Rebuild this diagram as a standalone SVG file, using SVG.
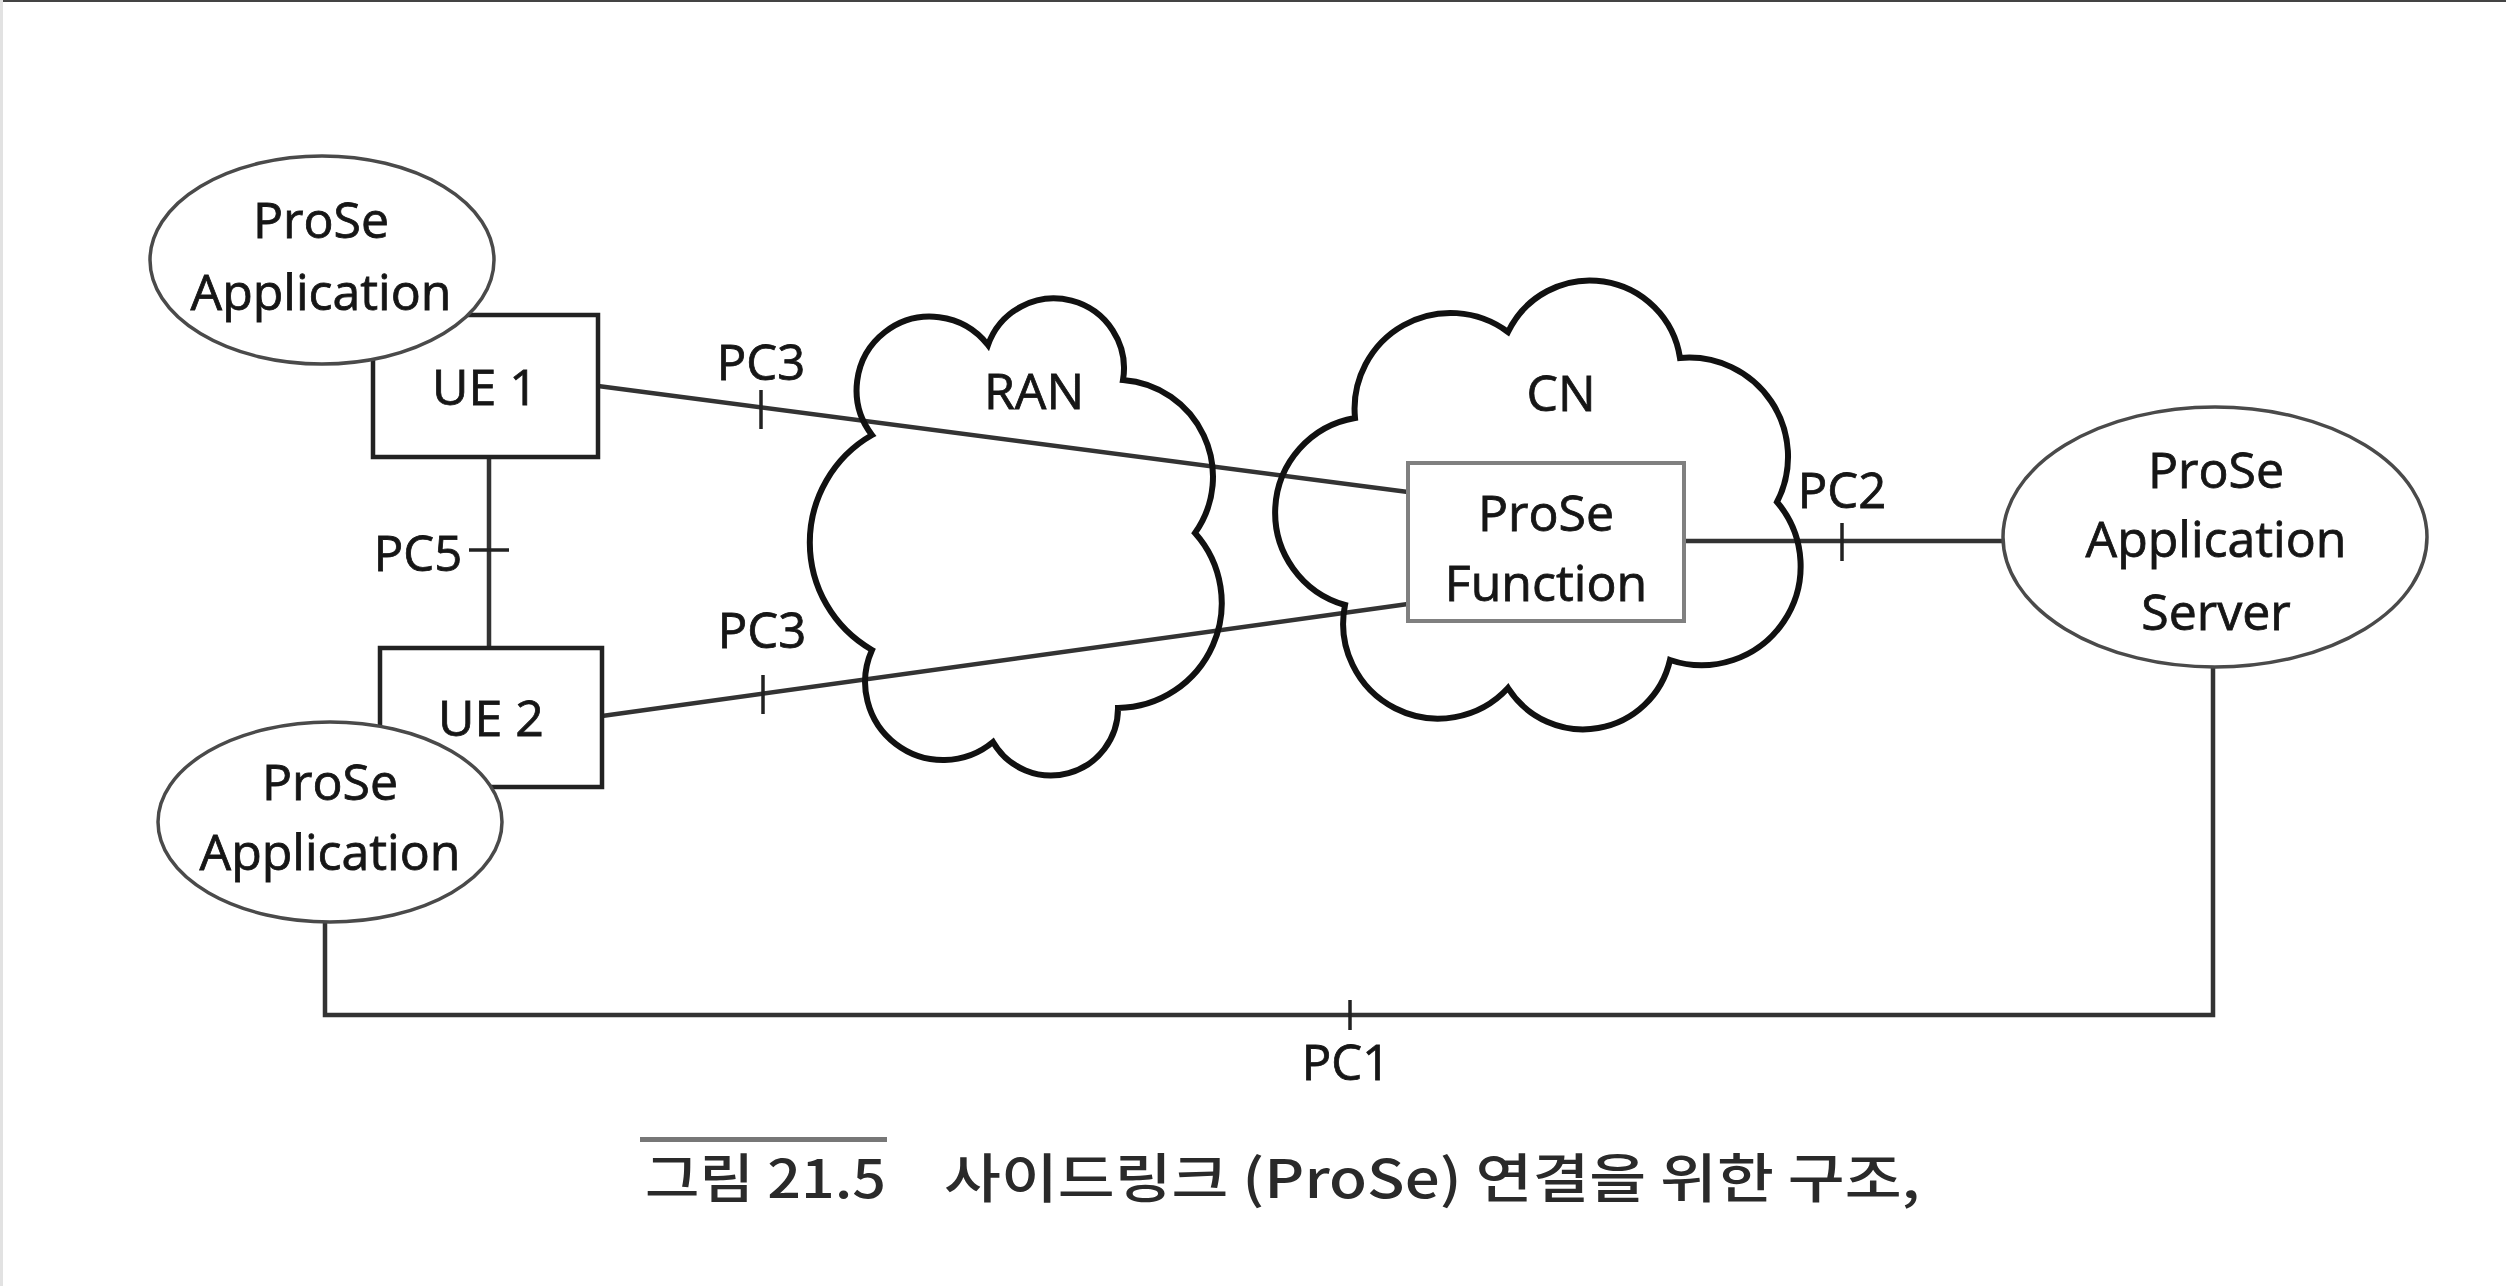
<svg xmlns="http://www.w3.org/2000/svg" width="2506" height="1286" viewBox="0 0 2506 1286">
<style>
.lbl{font-family:"Open Sans","Liberation Sans",sans-serif;font-size:50px;fill:#161616;stroke:#161616;stroke-width:0.8;text-anchor:middle}
.pc{font-family:"Open Sans","Liberation Sans",sans-serif;font-size:49px;fill:#161616;stroke:#161616;stroke-width:0.8;text-anchor:middle}
.ell{fill:#fff;stroke:#4a4a4a;stroke-width:3.5}
.box{fill:#fff;stroke:#222;stroke-width:4.5}
.cloud{fill:none;stroke:#111;stroke-width:6;stroke-linejoin:miter}
.conn{fill:none;stroke:#333;stroke-width:4.5}
.tick{stroke:#222;stroke-width:3.5}
.cap{font-family:"Noto Sans CJK KR","Noto Sans",sans-serif;font-size:53px;font-weight:500;fill:#2a2a2a}
</style>
<rect x="0" y="0" width="2506" height="1286" fill="#fff"/>
<rect x="0" y="0" width="2506" height="2" fill="#444"/>
<rect x="0" y="0" width="3" height="1286" fill="#e2e2e2"/>

<g id="connectors">
<line class="conn" x1="489" y1="457" x2="489" y2="648"/>
<line class="tick" x1="469" y1="550" x2="509" y2="550"/>
<line class="conn" x1="598" y1="386" x2="1408" y2="492"/>
<line class="tick" x1="761" y1="390" x2="761" y2="429"/>
<line class="conn" x1="602" y1="716" x2="1408" y2="604"/>
<line class="tick" x1="763" y1="675" x2="763" y2="714"/>
<line class="conn" x1="1684" y1="541" x2="2003" y2="541"/>
<line class="tick" x1="1842" y1="523" x2="1842" y2="561"/>
<path class="conn" d="M325 922 V1015 H2213 V667"/>
<line class="tick" x1="1350" y1="1000" x2="1350" y2="1030"/>
<text class="pc" x="418" y="571">PC5</text>
<text class="pc" x="761" y="380">PC3</text>
<text class="pc" x="762" y="648">PC3</text>
<text class="pc" x="1842" y="508">PC2</text>
<text class="pc" x="1346" y="1080">PC1</text>
</g>

<g id="ran">
<path class="cloud" d="M872 435 A73 73 0 0 1 988 345 A70 70 0 0 1 1123 380 A97 97 0 0 1 1195 533 A105 105 0 0 1 1118 708 A67 67 0 0 1 993 742 A78 78 0 0 1 872 650 A124 124 0 0 1 872 435 Z"/>
<text class="lbl" x="1034" y="409">RAN</text>
</g>

<g id="cn">
<path class="cloud" d="M1355 418 A96 96 0 0 1 1508 332 A91 91 0 0 1 1680 358 A99 99 0 0 1 1777 502 A99 99 0 0 1 1670 660 A89 89 0 0 1 1508 688 A95 95 0 0 1 1345 605 A96 96 0 0 1 1355 418 Z"/>
<text class="lbl" x="1561" y="411">CN</text>
</g>

<g id="prose-function">
<rect x="1408" y="463" width="276" height="158" fill="#fff" stroke="#808080" stroke-width="4"/>
<text class="lbl" x="1546" y="531">ProSe</text>
<text class="lbl" x="1546" y="601">Function</text>
</g>

<g id="ue1">
<rect class="box" x="373" y="315" width="225" height="142"/>
<text class="lbl" x="485" y="405">UE 1</text>
</g>

<g id="ue2">
<rect class="box" x="380" y="648" width="222" height="139"/>
<text class="lbl" x="491" y="736">UE 2</text>
</g>

<g id="app1">
<ellipse class="ell" cx="322" cy="260" rx="172" ry="104"/>
<text class="lbl" x="321" y="238">ProSe</text>
<text class="lbl" x="321" y="310">Application</text>
</g>

<g id="app2">
<ellipse class="ell" cx="330" cy="822" rx="172" ry="100"/>
<text class="lbl" x="330" y="800">ProSe</text>
<text class="lbl" x="330" y="870">Application</text>
</g>

<g id="app-server">
<ellipse class="ell" cx="2215" cy="537" rx="212" ry="130"/>
<text class="lbl" x="2216" y="488">ProSe</text>
<text class="lbl" x="2216" y="557">Application</text>
<text class="lbl" x="2216" y="630">Server</text>
</g>

<g id="caption">
<rect x="640" y="1137" width="247" height="5" fill="#777"/>
<text class="cap" x="645" y="1198" textLength="241" lengthAdjust="spacingAndGlyphs">그림 21.5</text>
<text class="cap" x="944" y="1198" textLength="976" lengthAdjust="spacingAndGlyphs">사이드링크 (ProSe) 연결을 위한 구조,</text>
</g>
</svg>
